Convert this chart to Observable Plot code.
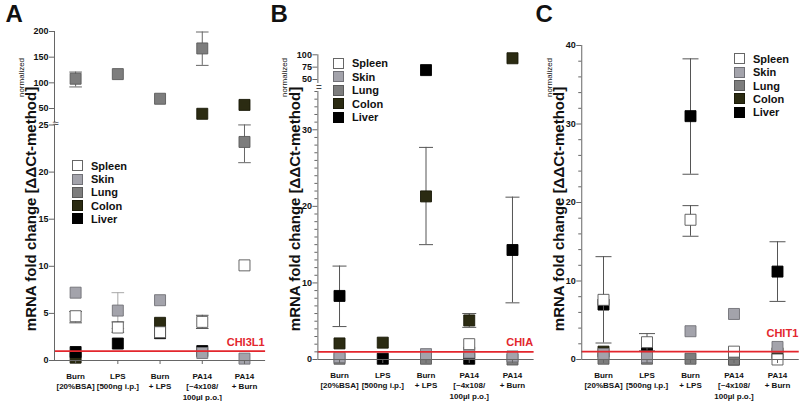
<!DOCTYPE html>
<html>
<head>
<meta charset="utf-8">
<script src="https://cdn.jsdelivr.net/npm/d3@7"></script>
<script src="https://cdn.jsdelivr.net/npm/@observablehq/plot@0.6"></script>
<style>
  body { margin: 0; background: #fff; }
  #wrap { position: relative; width: 800px; height: 401px; overflow: hidden; font-family: "Liberation Sans", Arial, sans-serif; }
  .legend { position: absolute; font-weight: bold; font-size: 11px; color: #111; }
  .legend .row { display: flex; align-items: center; height: 13.3px; white-space: nowrap; }
  .legend .sw { width: 9px; height: 9px; border: 1px solid #666; margin-right: 8px; }
</style>
</head>
<body>
<div id="wrap"></div>
<script>
// ---------------- data ----------------
const conditions = ["Burn\n[20%BSA]", "LPS\n[500ng i.p.]", "Burn\n+ LPS", "PA14\n[~4x108/\n100µl p.o.]", "PA14\n+ Burn"];
const tissues = ["Spleen", "Skin", "Lung", "Colon", "Liver"];
const genes = ["CHI3L1", "CHIA", "CHIT1"];
const referenceLevel = 1;

// rows follow `tissues`, columns follow `conditions`
const chi3l1Mean = [
  [4.7, 3.5, 3.0, 4.1, 10.1],
  [7.2, 5.3, 6.4, 0.8, 0.2],
  [108, 117, 69, 167, 23.2],
  [0.3, null, 4.0, 42, 57],
  [0.9, 1.8, 2.9, 1.0, null]
];
const chi3l1Low = [
  [4.0, 3.0, null, 3.4, null],
  [null, 3.4, null, null, null],
  [92, null, null, 134, 21.0],
  [null, null, null, null, null],
  [null, null, null, null, null]
];
const chi3l1High = [
  [5.2, 4.1, null, 4.8, null],
  [null, 7.2, null, null, null],
  [121, null, null, 199, 25.1],
  [null, null, null, null, null],
  [null, null, null, null, null]
];

const chiaMean = [
  [null, null, null, 2.0, null],
  [0.3, null, 0.7, 0.9, 0.4],
  [0.1, null, 0.1, null, 0.0],
  [2.1, 2.2, 21.3, 5.1, 93],
  [8.3, 0.1, 69, 0.1, 14.3]
];
const chiaLow = [
  [null, null, null, null, null],
  [null, null, null, null, null],
  [null, null, null, null, null],
  [null, null, 15.0, 4.2, null],
  [4.3, null, null, null, 7.4]
];
const chiaHigh = [
  [null, null, null, null, null],
  [null, null, null, null, null],
  [null, null, null, null, null],
  [null, null, 27.7, 6.0, null],
  [12.2, null, null, null, 21.2]
];

const chit1Mean = [
  [7.6, 2.2, 17.8, 1.0, 0.0],
  [0.7, 0.3, 3.6, 5.8, 1.6],
  [0.1, 0.1, 0.1, 0.0, null],
  [1.0, null, null, null, 0.8],
  [7.0, 0.9, 31.0, 0.0, 11.2]
];
const chit1Low = [
  [2.1, 1.1, 15.7, null, null],
  [null, null, null, null, null],
  [null, null, null, null, null],
  [null, null, null, null, null],
  [null, null, 23.6, null, 7.4]
];
const chit1High = [
  [13.1, 3.3, 19.6, null, null],
  [null, null, null, null, null],
  [null, null, null, null, null],
  [null, null, null, null, null],
  [null, null, 38.3, null, 15.0]
];

const chi3l1Ticks = [0, 5, 10, 15, 20, 25, 50, 100, 150, 200];
const chiaTicks = [0, 10, 20, 30, 50, 75, 100];
const chit1Ticks = [0, 10, 20, 30, 40];

// ---------------- styles / layout ----------------
const tissueStyle = {
  Spleen: {fill: "#ffffff", stroke: "#555555", err: "#555555"},
  Skin:   {fill: "#a3a3ab", stroke: "#707076", err: "#a8a8a8"},
  Lung:   {fill: "#7d7d7d", stroke: "#5a5a5a", err: "#666666"},
  Colon:  {fill: "#2b2b12", stroke: "#1a1a08", err: "#555555"},
  Liver:  {fill: "#000000", stroke: "#000000", err: "#555555"}
};
const drawOrder = ["Colon", "Liver", "Lung", "Skin", "Spleen"];
const xDomain = [-0.5, 4.5];
const font = "Liberation Sans, Arial, sans-serif";
const red = "#e3262d";
const axisGray = "#666";

const capSymbol = {
  draw(ctx, size) {
    const r = Math.sqrt(size / Math.PI);
    ctx.moveTo(-r, 0);
    ctx.lineTo(r, 0);
  }
};

const panels = [
  {letter: "A", gene: genes[0], mean: chi3l1Mean, low: chi3l1Low, high: chi3l1High, ticks: chi3l1Ticks, minor: [],
   left: 0, width: 266, marginLeft: 54, marginRight: 0.9, marginBottom: 41,
   yDomain: [0, 25, 50, 200], yRange: [360, 124.5, 108, 31],
   segments: [[0, 25], [28, 200]], breakMark: {value: 26.6, text: "≈", anchor: "start", dx: -2, size: 11},
   labelDy: -9, capR: 6.3, titleDx: -23.5, normDx: -33.5, letterDx: -49,
   legend: {left: 72, top: 159.4, row: 13.2}},
  {letter: "B", gene: genes[1], mean: chiaMean, low: chiaLow, high: chiaHigh, ticks: chiaTicks, minor: d3.range(1, 36).filter(v => v % 10 !== 0),
   left: 266, width: 270, marginLeft: 51.4, marginRight: 2.4, marginBottom: 42,
   yDomain: [0, 35, 50, 100], yRange: [359, 91, 79, 54.3],
   segments: [[0, 35], [45, 100]], breakMark: {value: 40, text: "=", anchor: "middle", dx: 1, size: 10},
   labelDy: -9, capR: 7, titleDx: -23, normDx: -33.5, letterDx: -47.4,
   legend: {left: 333, top: 56.6, row: 13.5}},
  {letter: "C", gene: genes[2], mean: chit1Mean, low: chit1Low, high: chit1High, ticks: chit1Ticks, minor: d3.range(2, 40, 2).filter(v => v % 10 !== 0),
   left: 531, width: 269, marginLeft: 50.25, marginRight: 1.25, marginBottom: 42,
   yDomain: [0, 40], yRange: [359, 45],
   segments: [[0, 40]], breakMark: null,
   labelDy: -18, capR: 8, titleDx: -23, normDx: -32.5, letterDx: -46.25,
   legend: {left: 734, top: 52.3, row: 13.3}}
];

function rowsFor(p) {
  const out = [];
  tissues.forEach((t, k) => p.mean[k].forEach((v, i) => {
    if (v != null) out.push({tissue: t, i, v, lo: p.low[k][i], hi: p.high[k][i]});
  }));
  return out;
}

const wrap = document.getElementById("wrap");

for (const p of panels) {
  const rows = rowsFor(p);
  const height = 401, marginTop = 20;
  const frameMid = (marginTop + height - p.marginBottom) / 2;
  const marks = [];

  for (const t of drawOrder) {
    const s = tissueStyle[t];
    const d = rows.filter(r => r.tissue === t);
    const e = d.filter(r => r.lo != null && r.hi != null);
    marks.push(Plot.ruleX(e, {x: "i", y1: "lo", y2: "hi", stroke: s.err, strokeWidth: 1}));
    marks.push(Plot.dot(e.flatMap(r => [{i: r.i, v: r.lo}, {i: r.i, v: r.hi}]),
      {x: "i", y: "v", symbol: capSymbol, r: p.capR, fill: "none", stroke: s.err, strokeWidth: 1}));
    marks.push(Plot.dot(d, {x: "i", y: "v", symbol: "square", r: 6.2, fill: s.fill, stroke: s.stroke, strokeWidth: 0.9}));
  }

  // reference line (normalised level = 1) and gene label
  marks.push(Plot.ruleY([referenceLevel], {x1: () => xDomain[0], x2: () => xDomain[1], stroke: red, strokeWidth: 1.6}));
  marks.push(Plot.text([p.gene], {x: () => xDomain[1], y: () => referenceLevel, text: d => d, textAnchor: "end", lineAnchor: "middle",
    dx: -1, dy: p.labelDy, fill: red, fontWeight: "bold", fontSize: 11}));

  // axes lines
  marks.push(Plot.ruleY([0], {x1: () => xDomain[0], x2: () => xDomain[1], stroke: axisGray, strokeWidth: 1}));
  marks.push(Plot.ruleX(p.segments, {x: () => xDomain[0], y1: d => d[0], y2: d => d[1], stroke: axisGray, strokeWidth: 1}));
  if (p.breakMark) {
    marks.push(Plot.text([p.breakMark.value], {x: () => xDomain[0], y: d => d, text: () => p.breakMark.text,
      textAnchor: p.breakMark.anchor, dx: p.breakMark.dx, fontSize: p.breakMark.size, fill: "#444", lineAnchor: "middle"}));
  }

  // y ticks
  marks.push(Plot.axisY({ticks: p.ticks, tickSize: 5, tickFormat: () => "", color: axisGray, label: null}));
  if (p.minor.length) marks.push(Plot.axisY({ticks: p.minor, tickSize: 3, tickFormat: () => "", color: axisGray, label: null}));
  marks.push(Plot.axisY({ticks: p.ticks, tickSize: 0, tickPadding: 6, tickFormat: d => String(d), fontSize: 9, fontWeight: "bold", color: "#111", label: null}));

  // x ticks
  marks.push(Plot.axisX({ticks: [0, 1, 2, 3, 4], tickSize: 4, tickFormat: () => "", color: axisGray, label: null}));
  marks.push(Plot.axisX({ticks: [0, 1, 2, 3, 4], tickSize: 0, tickPadding: 11, tickFormat: i => conditions[i],
    fontSize: 8, fontWeight: "bold", lineHeight: 1.3, color: "#111", label: null}));

  // y-axis title, subscript and panel letter
  marks.push(Plot.text(["mRNA fold change [ΔΔCt-method]"], {frameAnchor: "left", text: d => d, rotate: -90,
    dx: p.titleDx, dy: 208.5 - frameMid, fontSize: 15, fontWeight: "bold", fill: "#111", lineAnchor: "middle", textAnchor: "middle"}));
  marks.push(Plot.text(["normalized"], {frameAnchor: "left", text: d => d, rotate: -90,
    dx: p.normDx, dy: 77 - frameMid, fontSize: 8, fill: "#111", lineAnchor: "middle", textAnchor: "middle"}));
  marks.push(Plot.text([p.letter], {frameAnchor: "top-left", text: d => d, dx: p.letterDx, dy: 13.5 - marginTop,
    fontSize: 24, fontWeight: "bold", fill: "#111", textAnchor: "start", lineAnchor: "middle"}));

  const svg = Plot.plot({
    width: p.width, height,
    marginLeft: p.marginLeft, marginRight: p.marginRight, marginTop, marginBottom: p.marginBottom,
    x: {type: "linear", domain: xDomain, label: null},
    y: {type: "linear", domain: p.yDomain, range: p.yRange, label: null},
    style: {fontFamily: font, overflow: "visible", background: "transparent"},
    marks
  });
  svg.style.position = "absolute";
  svg.style.left = p.left + "px";
  svg.style.top = "0px";
  wrap.appendChild(svg);

  // legend
  const lg = document.createElement("div");
  lg.className = "legend";
  lg.style.left = p.legend.left + "px";
  lg.style.top = p.legend.top + "px";
  for (const t of tissues) {
    const row = document.createElement("div");
    row.className = "row";
    row.style.height = p.legend.row + "px";
    const sw = document.createElement("span");
    sw.className = "sw";
    sw.style.background = tissueStyle[t].fill;
    sw.style.borderColor = t === "Spleen" ? "#666" : tissueStyle[t].stroke;
    const tx = document.createElement("span");
    tx.textContent = t;
    row.appendChild(sw);
    row.appendChild(tx);
    lg.appendChild(row);
  }
  wrap.appendChild(lg);
}
</script>
</body>
</html>
